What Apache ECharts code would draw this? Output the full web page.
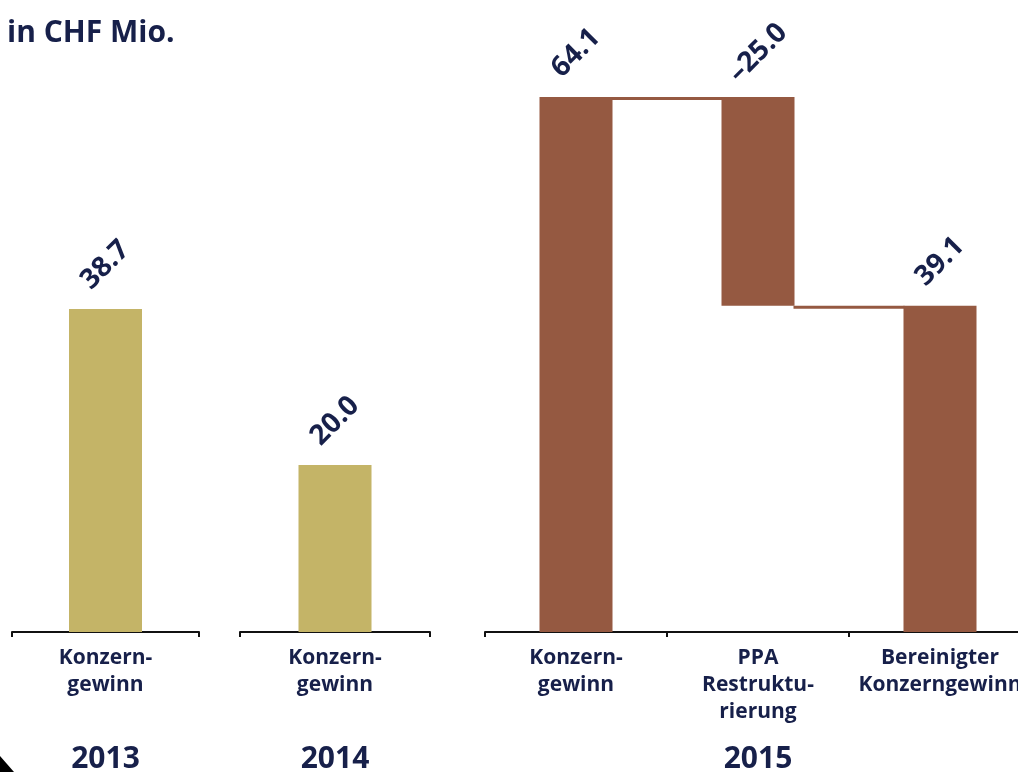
<!DOCTYPE html>
<html>
<head>
<meta charset="utf-8">
<script src="https://cdn.jsdelivr.net/npm/echarts@6/dist/echarts.min.js"></script>
<style>
html,body{margin:0;padding:0;background:#fff;}
#chart{width:1018px;height:772px;}
</style>
</head>
<body>
<div id="chart"></div>
<script>
// ---- data ----
const titleText = 'in CHF Mio.';
const years = ['2013', '2014', '2015'];
const cat2013 = ['Konzern-\ngewinn'];
const val2013 = [38.7];
const cat2014 = ['Konzern-\ngewinn'];
const val2014 = [20.0];
const cat2015 = ['Konzern-\ngewinn', 'PPA\nRestruktu-\nrierung', 'Bereinigter\nKonzerngewinn'];
const change2015 = [64.1, -25.0, 39.1];   // last one is the resulting total
// ---- derived (waterfall) ----
const base2015 = [], height2015 = [], levels2015 = [];
(function(){
  let run = 0;
  change2015.forEach((v, i) => {
    if (i === 0) { base2015.push(0); height2015.push(v); run = v; }
    else if (i === change2015.length - 1) { base2015.push(0); height2015.push(v); }
    else if (v < 0) { base2015.push(run + v); height2015.push(-v); run = run + v; }
    else { base2015.push(run); height2015.push(v); run = run + v; }
    levels2015.push(run);
  });
})();
const yMax = Math.max(...val2013, ...val2014, ...change2015);

const NAVY = '#17204a';
const GOLD = '#c4b467';
const BROWN = '#955941';
const FONT = '"Open Sans", "Noto Sans", sans-serif';
const BARW = 73;

function fmt(v){ return (v < 0 ? '\u2013' : '') + Math.abs(v).toFixed(1); }

const valueLabel = (getter) => ({
  show: true, position: 'top', distance: 44, rotate: 45,
  align: 'center', verticalAlign: 'middle',
  color: NAVY, fontFamily: FONT, fontWeight: 'bold', fontSize: 28,
  formatter: getter
});

function xAxisFor(gridIndex, cats, year) {
  return {
    type: 'category', gridIndex, data: cats,
    axisLine: { show: true, lineStyle: { color: '#111', width: 2 } },
    axisTick: { show: true, length: 5, lineStyle: { color: '#111', width: 2 } },
    axisLabel: { color: NAVY, fontFamily: FONT, fontWeight: 'bold', fontSize: 21, lineHeight: 27, margin: 13, interval: 0 },
    name: year, nameLocation: 'middle', nameGap: 112,
    nameTextStyle: { color: NAVY, fontFamily: FONT, fontWeight: 'bold', fontSize: 30 }
  };
}
function yAxisFor(gridIndex) {
  return { type: 'value', gridIndex, min: 0, max: yMax, show: false, splitLine: { show: false } };
}

const chart = echarts.init(document.getElementById('chart'), null, { renderer: 'canvas' });
chart.setOption({
  backgroundColor: '#fff',
  animation: false,
  title: { text: titleText, left: 2, top: 13,
    textStyle: { color: NAVY, fontFamily: FONT, fontWeight: 'bold', fontSize: 30 } },
  grid: [
    { left: 12, width: 187, top: 97, bottom: 140, outerBoundsMode: 'none', containLabel: false },
    { left: 240, width: 190, top: 97, bottom: 140, outerBoundsMode: 'none', containLabel: false },
    { left: 485, width: 546, top: 97, bottom: 140, outerBoundsMode: 'none', containLabel: false }
  ],
  xAxis: [
    xAxisFor(0, cat2013, years[0]),
    xAxisFor(1, cat2014, years[1]),
    xAxisFor(2, cat2015, years[2])
  ],
  yAxis: [yAxisFor(0), yAxisFor(1), yAxisFor(2)],
  series: [
    { type: 'bar', xAxisIndex: 0, yAxisIndex: 0, data: val2013, barWidth: BARW,
      itemStyle: { color: GOLD }, label: valueLabel(p => fmt(val2013[p.dataIndex])) },
    { type: 'bar', xAxisIndex: 1, yAxisIndex: 1, data: val2014, barWidth: BARW,
      itemStyle: { color: GOLD }, label: valueLabel(p => fmt(val2014[p.dataIndex])) },
    { type: 'bar', xAxisIndex: 2, yAxisIndex: 2, data: base2015, barWidth: BARW, stack: 'w',
      itemStyle: { color: 'transparent' }, silent: true },
    { type: 'bar', xAxisIndex: 2, yAxisIndex: 2, data: height2015, barWidth: BARW, stack: 'w',
      itemStyle: { color: BROWN }, label: valueLabel(p => fmt(change2015[p.dataIndex])) },
    { type: 'custom', xAxisIndex: 2, yAxisIndex: 2,
      data: levels2015.slice(0, -1).map((lv, i) => [i, lv]),
      renderItem: function (params, api) {
        const i = api.value(0), lv = api.value(1);
        const p0 = api.coord([i, lv]);
        const p1 = api.coord([i + 1, lv]);
        const half = BARW / 2;
        return { type: 'rect',
          shape: { x: p0[0] + half - 1, y: p0[1], width: (p1[0] - half) - (p0[0] + half) + 2, height: 3 },
          style: { fill: BROWN } };
      }
    }
  ],
  graphic: [
    { type: 'polygon', shape: { points: [[0, 756], [14, 772], [0, 772]] }, style: { fill: '#000' } }
  ]
});
</script>
</body>
</html>
